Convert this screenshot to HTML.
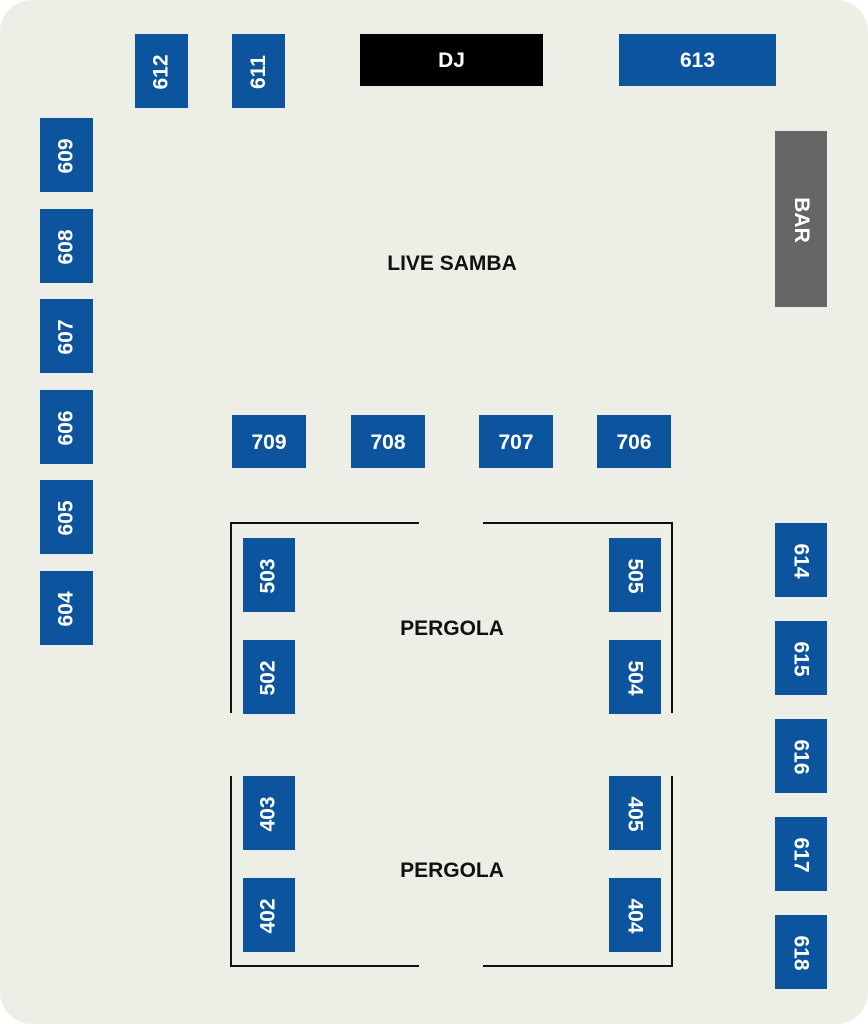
<!DOCTYPE html>
<html><head><style>
body{margin:0;width:868px;height:1024px;background:#fff;position:relative;overflow:hidden;font-family:"Liberation Sans",sans-serif}
#bg{position:absolute;left:0;top:0;width:868px;height:1024px;background:#edeee5;border-radius:32px}
.b{position:absolute;background:#0c559e;color:#fff;font-weight:bold;font-size:21px;display:flex;align-items:center;justify-content:center;padding-top:2px;box-sizing:border-box}
.b span{display:block;white-space:nowrap}
.u span{transform:rotate(-90deg)}
.d span{transform:rotate(90deg)}
.t{position:absolute;font-weight:bold;font-size:21px;color:#111;transform:translateX(-50%);white-space:nowrap}
.l{position:absolute;background:#111}
</style></head><body>
<div id="bg"></div>
<div class="b u" style="left:135px;top:34px;width:53px;height:74px"><span>612</span></div>
<div class="b u" style="left:232px;top:34px;width:53px;height:74px"><span>611</span></div>
<div class="b" style="left:360px;top:34px;width:183px;height:52px;background:#000">DJ</div>
<div class="b" style="left:619px;top:34px;width:157px;height:52px">613</div>
<div class="b d" style="left:775px;top:131px;width:52px;height:176px;background:#666"><span>BAR</span></div>
<div class="b u" style="left:40px;top:118px;width:53px;height:74px"><span>609</span></div>
<div class="b u" style="left:40px;top:209px;width:53px;height:74px"><span>608</span></div>
<div class="b u" style="left:40px;top:299px;width:53px;height:74px"><span>607</span></div>
<div class="b u" style="left:40px;top:390px;width:53px;height:74px"><span>606</span></div>
<div class="b u" style="left:40px;top:480px;width:53px;height:74px"><span>605</span></div>
<div class="b u" style="left:40px;top:571px;width:53px;height:74px"><span>604</span></div>
<div class="b" style="left:232px;top:415px;width:74px;height:53px">709</div>
<div class="b" style="left:351px;top:415px;width:74px;height:53px">708</div>
<div class="b" style="left:479px;top:415px;width:74px;height:53px">707</div>
<div class="b" style="left:597px;top:415px;width:74px;height:53px">706</div>
<div class="b d" style="left:775px;top:523px;width:52px;height:74px"><span>614</span></div>
<div class="b d" style="left:775px;top:621px;width:52px;height:74px"><span>615</span></div>
<div class="b d" style="left:775px;top:719px;width:52px;height:74px"><span>616</span></div>
<div class="b d" style="left:775px;top:817px;width:52px;height:74px"><span>617</span></div>
<div class="b d" style="left:775px;top:915px;width:52px;height:74px"><span>618</span></div>
<div class="b u" style="left:243px;top:538px;width:52px;height:74px"><span>503</span></div>
<div class="b u" style="left:243px;top:640px;width:52px;height:74px"><span>502</span></div>
<div class="b d" style="left:609px;top:538px;width:52px;height:74px"><span>505</span></div>
<div class="b d" style="left:609px;top:640px;width:52px;height:74px"><span>504</span></div>
<div class="b u" style="left:243px;top:776px;width:52px;height:74px"><span>403</span></div>
<div class="b u" style="left:243px;top:878px;width:52px;height:74px"><span>402</span></div>
<div class="b d" style="left:609px;top:776px;width:52px;height:74px"><span>405</span></div>
<div class="b d" style="left:609px;top:878px;width:52px;height:74px"><span>404</span></div>
<div class="l" style="left:231px;top:522px;width:188px;height:2px"></div>
<div class="l" style="left:483px;top:522px;width:190px;height:2px"></div>
<div class="l" style="left:230px;top:522px;width:2px;height:191px"></div>
<div class="l" style="left:671px;top:522px;width:2px;height:191px"></div>
<div class="l" style="left:230px;top:776px;width:2px;height:191px"></div>
<div class="l" style="left:671px;top:776px;width:2px;height:191px"></div>
<div class="l" style="left:231px;top:965px;width:188px;height:2px"></div>
<div class="l" style="left:483px;top:965px;width:190px;height:2px"></div>
<div class="t" style="left:452px;top:252px">LIVE SAMBA</div>
<div class="t" style="left:452px;top:617px">PERGOLA</div>
<div class="t" style="left:452px;top:859px">PERGOLA</div>
</body></html>
